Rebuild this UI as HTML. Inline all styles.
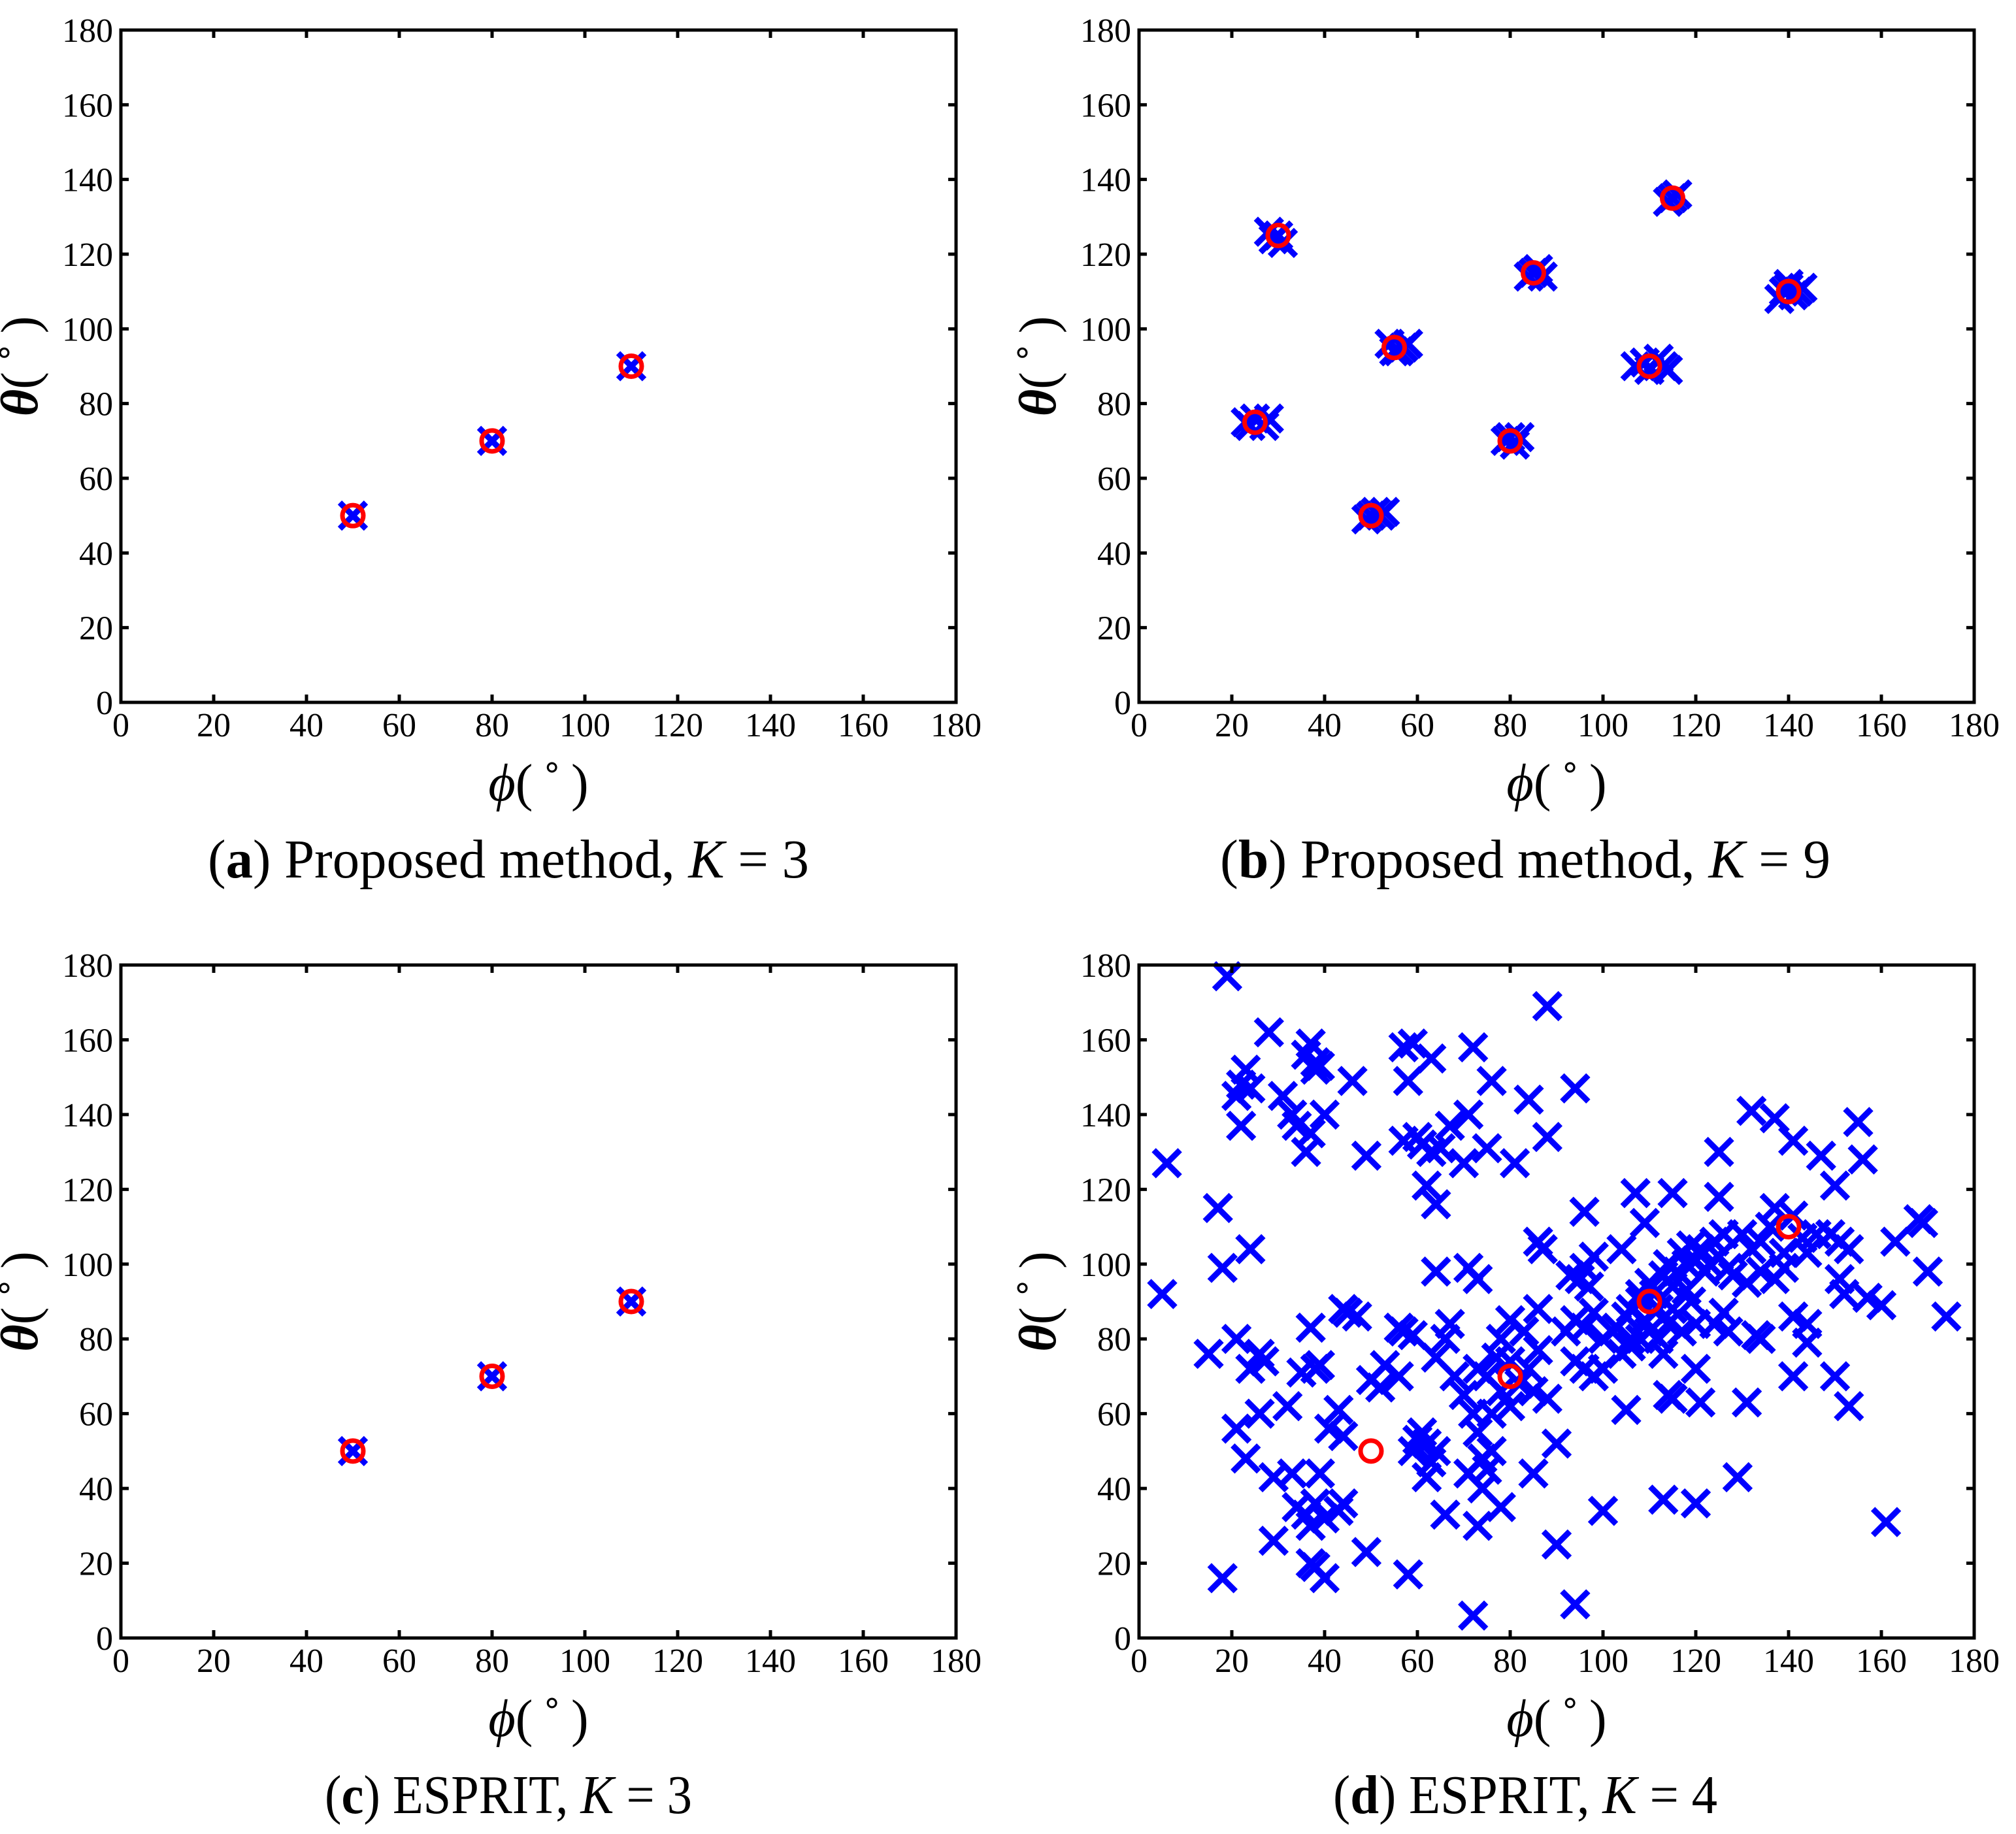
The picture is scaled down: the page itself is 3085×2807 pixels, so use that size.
<!DOCTYPE html>
<html><head><meta charset="utf-8"><style>
html,body{margin:0;padding:0;background:#fff}
svg{display:block}
text{font-family:"Liberation Serif",serif;fill:#000}
</style></head><body>
<svg id="fig" width="3085" height="2807" viewBox="0 0 3085 2807" xmlns="http://www.w3.org/2000/svg"></svg>
<script>
// ---- data ----
const ticks = [0,20,40,60,80,100,120,140,160,180];
const trueA_phi = [50,80,110];
const trueA_theta = [50,70,90];
const estA_phi = [50,80,110];
const estA_theta = [50,70,90];
const trueB_phi = [25,30,50,55,80,85,110,115,140];
const trueB_theta = [75,125,50,95,70,115,90,135,110];
const estB_phi = [23,25,27,28,24,29,30,31,28,49,50,51,52,53,55,57,58,54,56,79,80,81,82,84,85,86,87,107,109,110,112,113,114,115,116,114,138,139,140,141,142,143,140];
const estB_theta = [75,76,74,76,74,124,125,123,126,49,50,51,50,51,94,95,96,96,94,70,71,69,71,114,115,116,114,90,91,89,92,90,89,135,136,134,108,110,111,109,110,111,112];
const trueC_phi = [50,80,110];
const trueC_theta = [50,70,90];
const estC_phi = [50,80,110];
const estC_theta = [50,70,90];
const trueD_phi = [50,80,110,140];
const trueD_theta = [50,70,90,110];
const estD_phi = [19,28,37,38,38,39,36,22,23,21,24,40,31,33,34,36,37,46,22,6,49,57,59,58,63,57,60,61,63,65,62,64,67,70,72,71,76,75,81,84,88,88,94,17,18,24,5,15,21,26,27,24,37,35,38,39,44,45,47,32,26,21,23,29,33,39,41,43,44,34,36,37,38,40,43,44,29,37,38,40,18,49,58,50,52,53,56,56,57,59,64,66,67,64,64,60,61,59,62,63,62,66,73,78,72,71,73,68,70,72,73,74,76,75,74,71,73,75,77,78,80,82,84,85,86,88,80,76,78,83,80,86,87,86,90,85,90,94,100,93,95,96,97,98,96,92,94,96,98,100,102,94,96,98,100,104,107,109,103,105,106,108,109,111,112,110,113,115,114,116,118,117,119,120,122,121,123,124,125,127,126,104,106,108,110,112,114,115,113,105,114,115,120,121,113,120,129,131,115,125,125,132,137,141,147,150,155,156,130,132,134,136,137,139,141,143,146,149,128,131,134,137,139,144,124,126,127,133,134,141,144,144,141,150,153,151,152,151,153,157,160,163,168,169,170,174,161,106,108,117,118,119,120];
const estD_theta = [177,162,159,154,152,153,156,148,152,145,147,140,145,140,137,130,135,149,137,127,129,158,159,149,155,133,134,132,130,131,121,116,137,127,158,140,149,131,127,144,169,134,147,115,99,104,92,76,80,76,74,72,83,71,72,73,88,87,86,62,60,56,48,43,44,44,56,61,54,35,33,30,36,32,34,36,26,20,19,16,16,23,17,69,67,73,70,83,82,81,98,80,84,75,50,53,55,50,52,47,43,33,30,35,6,99,96,70,65,60,55,48,50,45,40,44,72,70,75,80,74,68,72,66,77,64,62,60,66,82,85,106,104,88,52,44,25,9,34,97,96,99,94,102,114,82,85,83,87,80,82,74,72,70,72,104,119,111,83,86,88,90,85,92,88,95,97,94,100,98,100,103,105,101,98,104,100,106,102,99,108,76,78,80,82,80,84,88,76,61,65,64,72,63,37,36,43,63,119,118,130,141,139,133,129,121,138,128,108,104,106,110,115,103,113,107,108,108,97,95,98,96,99,103,84,87,82,81,80,86,79,84,70,70,62,96,92,106,104,91,89,106,112,111,98,86,31,80,92,82,93,90,84];

// ---- layout ----
const panels = [
  {id:'a', L:185, R:1463, T:46, B:1075, cx:778, cap:['a','Proposed method, ','3'], capW:920, tp:trueA_phi, tt:trueA_theta, ep:estA_phi, et:estA_theta},
  {id:'b', L:1743, R:3021, T:46, B:1075, cx:2334, cap:['b','Proposed method, ','9'], capW:934, tp:trueB_phi, tt:trueB_theta, ep:estB_phi, et:estB_theta},
  {id:'c', L:185, R:1463, T:1477, B:2507, cx:778, cap:['c','ESPRIT, ','3'], capW:562, tp:trueC_phi, tt:trueC_theta, ep:estC_phi, et:estC_theta},
  {id:'d', L:1743, R:3021, T:1477, B:2507, cx:2334, cap:['d','ESPRIT, ','4'], capW:588, tp:trueD_phi, tt:trueD_theta, ep:estD_phi, et:estD_theta}
];
const NS='http://www.w3.org/2000/svg';
const svg=document.getElementById('fig');
function mk(tag,attrs,parent){const e=document.createElementNS(NS,tag);for(const k in attrs)e.setAttribute(k,attrs[k]);(parent||svg).appendChild(e);return e;}

panels.forEach(p=>{
  const sx=v=>p.L+(v/180)*(p.R-p.L);
  const sy=v=>p.B-(v/180)*(p.B-p.T);
  const g=mk('g',{});
  
  
  const eg=mk('g',{stroke:'#0000ff','stroke-width':9,fill:'none'},g);
  
  
  for(let i=0;i<p.ep.length;i++){
    const x=sx(p.ep[i]),y=sy(p.et[i]),h=20;
    const m=mk('path',{d:`M${x-h},${y-h}L${x+h},${y+h}M${x-h},${y+h}L${x+h},${y-h}`},eg);
    
    
  }
  const tg=mk('g',{stroke:'#ff0000','stroke-width':7,fill:'none'},g);
  
  
  for(let i=0;i<p.tp.length;i++){
    const c=mk('circle',{cx:sx(p.tp[i]),cy:sy(p.tt[i]),r:16},tg);
    
    
  }
  const fr=mk('rect',{x:p.L,y:p.T,width:p.R-p.L,height:p.B-p.T,fill:'none',stroke:'#000','stroke-width':5},g);
  
  
  ticks.forEach(t=>{
    const x=sx(t),y=sy(t),tl=12;
    const tk=mk('path',{d:`M${x},${p.B}V${p.B-tl}M${x},${p.T}V${p.T+tl}M${p.L},${y}H${p.L+tl}M${p.R},${y}H${p.R-tl}`,stroke:'#000','stroke-width':5},g);
    
    
    const xl=mk('text',{x:x,y:p.B+52,'font-size':52,'text-anchor':'middle'},g);
    xl.textContent=t;
    
    
    const yl=mk('text',{x:p.L-12,y:y+18,'font-size':52,'text-anchor':'end'},g);
    yl.textContent=t;
    
    
  });
  const cxA=(p.L+p.R)/2;
  const xt=mk('text',{x:cxA,y:p.B+150,'font-size':80,'text-anchor':'middle'},g);
  xt.innerHTML='<tspan font-style="italic">ϕ</tspan>(\u2009˚\u2009)';
  
  
  const cyA=(p.T+p.B)/2;
  const yt=mk('text',{x:p.L-128,y:cyA,'font-size':80,'text-anchor':'middle',transform:`rotate(-90 ${p.L-128} ${cyA})`},g);
  yt.innerHTML='<tspan font-style="italic" font-weight="bold">θ</tspan>(\u2009˚\u2009)';
  
  
  const cp=mk('text',{x:p.cx,y:p.B+268,'font-size':84,'text-anchor':'middle',textLength:p.capW,lengthAdjust:'spacingAndGlyphs'},g);
  cp.innerHTML=`(<tspan font-weight="bold">${p.cap[0]}</tspan>) ${p.cap[1]}<tspan font-style="italic">K</tspan> = ${p.cap[2]}`;
  
  
});
</script>
</body></html>
